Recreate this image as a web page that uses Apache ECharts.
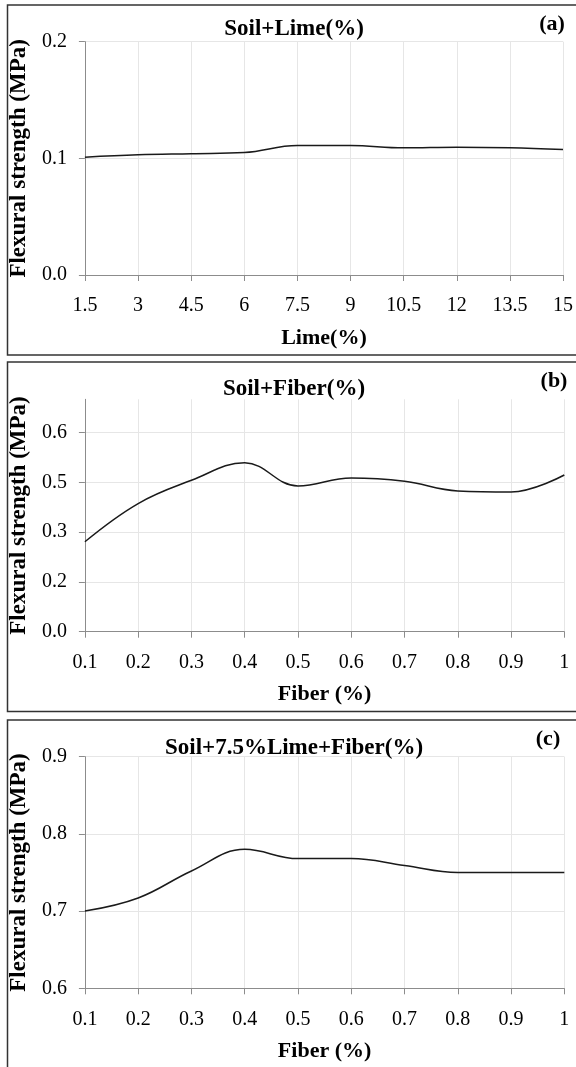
<!DOCTYPE html>
<html>
<head>
<meta charset="utf-8">
<script src="https://cdn.jsdelivr.net/npm/echarts@6/dist/echarts.min.js"></script>
<style>
    html, body { margin: 0; padding: 0; background: #fff; }
    #chart { width: 576px; height: 1067px; }
</style>
</head>
<body>
<div id="chart"></div>
<script>
'use strict';

// panel (a): soil + lime
const limeX = [1.5, 3, 4.5, 6, 7.5, 9, 10.5, 12, 13.5, 15];
const limeStrength = [0.101, 0.103, 0.104, 0.105, 0.111, 0.111, 0.109, 0.1095, 0.109, 0.1075];
const limeYTicks = [0, 0.1, 0.2];

// panels (b) and (c): fiber content
const fiberX = [0.1, 0.2, 0.3, 0.4, 0.5, 0.6, 0.7, 0.8, 0.9, 1];
const fiberStrength = [0.271, 0.386, 0.456, 0.509, 0.439, 0.463, 0.453, 0.424, 0.421, 0.472];
const fiberYTicks = [0, 0.15, 0.3, 0.45, 0.6];
const limeFiberStrength = [0.700, 0.717, 0.752, 0.780, 0.768, 0.768, 0.759, 0.750, 0.750, 0.750];
const limeFiberYTicks = [0.6, 0.7, 0.8, 0.9];

const panelTitles = ['Soil+Lime(%)', 'Soil+Fiber(%)', 'Soil+7.5%Lime+Fiber(%)'];
const panelTags = ['(a)', '(b)', '(c)'];
const xNames = ['Lime(%)', 'Fiber (%)', 'Fiber (%)'];
const yName = 'Flexural strength (MPa)';

const FONT = 'Liberation Serif';
const gridTops = [41.7, 399.3, 756.7];
const gridHeights = [233.3, 232.4, 231.6];
const boxes = [[7.5, 5, 355], [7.5, 362, 711.5], [7.5, 720, 1080]];
const titleY = [30, 390, 749];
const tagPos = [[552, 24], [554, 381], [548, 739]];

const pairs = (xs, ys) => xs.map((x, i) => [x, ys[i]]);
const oneDecimal = v => (Math.round(v * 10 + 1e-9) / 10).toFixed(1);

function xAxisFor(i, min, max, interval) {
    return {
        type: 'value', gridIndex: i, min: min, max: max, interval: interval,
        name: xNames[i], nameLocation: 'middle', nameGap: 52,
        nameTextStyle: { fontFamily: FONT, fontSize: 22, fontWeight: 'bold', color: '#000' },
        axisLine: { onZero: false, lineStyle: { color: '#8c8c8c', width: 1 } },
        axisTick: { show: true, length: 6, lineStyle: { color: '#8c8c8c' } },
        axisLabel: { margin: 21, fontFamily: FONT, fontSize: 20, color: '#000' },
        splitLine: { show: true, lineStyle: { color: '#e6e6e6', width: 1 } }
    };
}

function yAxisFor(i, min, max, ticks) {
    return {
        type: 'value', gridIndex: i, min: min, max: max,
        name: yName, nameLocation: 'middle', nameGap: 44, nameRotate: 90,
        nameTextStyle: { fontFamily: FONT, fontSize: 23, fontWeight: 'bold', color: '#000' },
        axisLine: { show: true, lineStyle: { color: '#8c8c8c', width: 1 } },
        axisTick: { show: true, length: 6, customValues: ticks, lineStyle: { color: '#8c8c8c' } },
        axisLabel: { margin: 18, customValues: ticks, formatter: oneDecimal,
            fontFamily: FONT, fontSize: 20, color: '#000' },
        splitLine: { show: true, lineStyle: { color: '#e6e6e6', width: 1 } }
    };
}

function lineSeries(i, data) {
    return {
        type: 'line', xAxisIndex: i, yAxisIndex: i, data: data,
        smooth: 0.4, symbol: 'none',
        lineStyle: { color: '#1a1a1a', width: 1.5 }
    };
}

const graphic = [];
boxes.forEach(function (b) {
    graphic.push({
        type: 'rect', silent: true,
        shape: { x: b[0], y: b[1], width: 620, height: b[2] - b[1] },
        style: { fill: 'none', stroke: '#333', lineWidth: 1.5 }
    });
});
panelTags.forEach(function (t, i) {
    graphic.push({
        type: 'text', silent: true, x: tagPos[i][0], y: tagPos[i][1],
        style: { text: t, font: 'bold 22px "' + FONT + '"', fill: '#000',
            align: 'center', verticalAlign: 'middle' }
    });
});

const option = {
    backgroundColor: '#fff',
    animation: false,
    title: panelTitles.map(function (t, i) {
        return {
            text: t, left: 294, top: titleY[i] - 12, textAlign: 'center', padding: 0,
            textStyle: { fontFamily: FONT, fontSize: 23, fontWeight: 'bold', color: '#000' }
        };
    }),
    grid: gridTops.map(function (top, i) {
        return { left: 79.5, width: 484.8, top: top, height: gridHeights[i] };
    }),
    xAxis: [
        xAxisFor(0, 1.5, 15, 1.5),
        xAxisFor(1, 0.1, 1, 0.1),
        xAxisFor(2, 0.1, 1, 0.1)
    ],
    yAxis: [
        yAxisFor(0, 0, 0.2, limeYTicks),
        yAxisFor(1, 0, 0.7, fiberYTicks),
        yAxisFor(2, 0.6, 0.9, limeFiberYTicks)
    ],
    series: [
        lineSeries(0, pairs(limeX, limeStrength)),
        lineSeries(1, pairs(fiberX, fiberStrength)),
        lineSeries(2, pairs(fiberX, limeFiberStrength))
    ],
    graphic: graphic
};

const chartDom = document.getElementById('chart');
const myChart = echarts.init(chartDom);
myChart.setOption(option);
window.addEventListener('resize', function () {
    myChart.resize();
});
</script>
</body>
</html>
